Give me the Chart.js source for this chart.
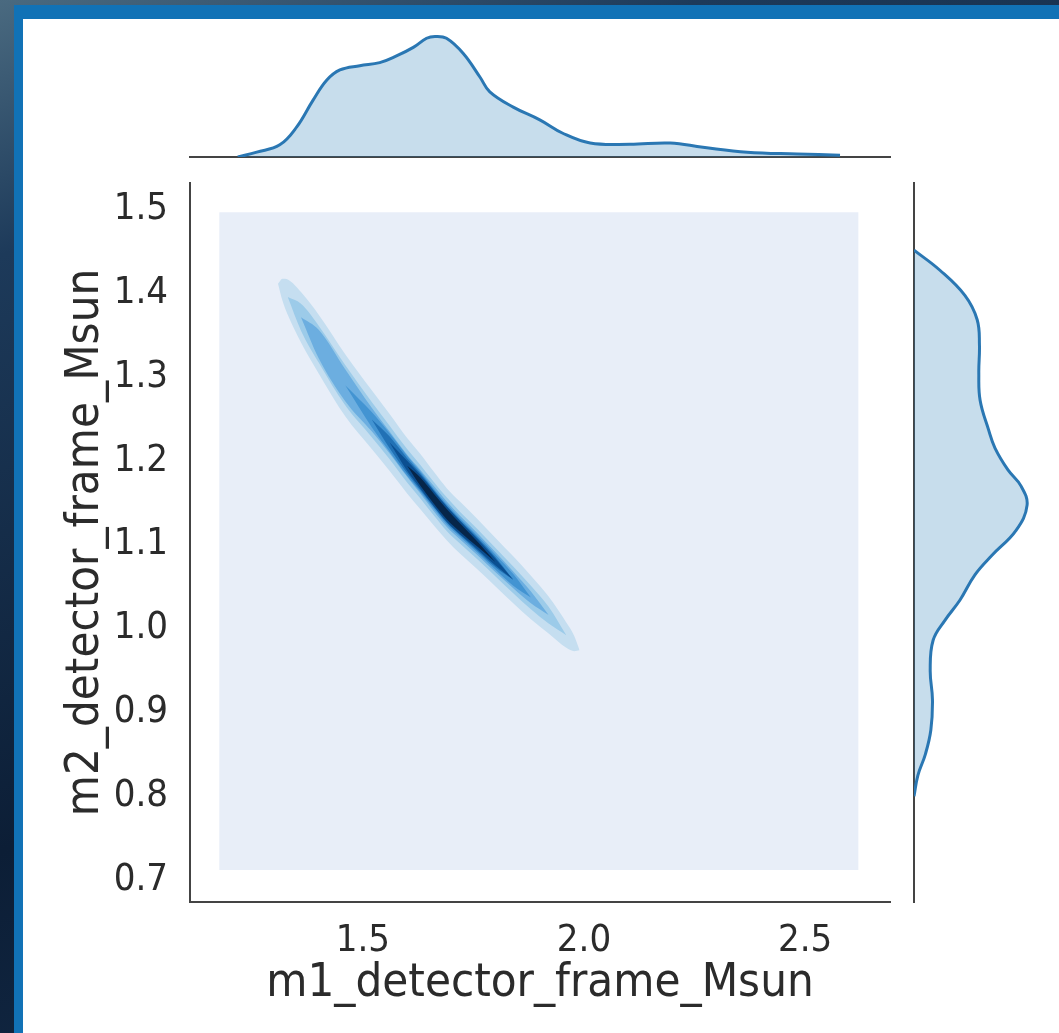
<!DOCTYPE html>
<html>
<head>
<meta charset="utf-8">
<script src="https://cdn.jsdelivr.net/npm/chart.js@4.4.1/dist/chart.umd.min.js"></script>
<style>
html,body{margin:0;padding:0;}
body{width:1059px;height:1033px;overflow:hidden;position:relative;
  background:linear-gradient(160deg,#4a6a80 0%,#1d3a5a 18%,#0c1e36 60%,#16304f 100%);}
#brush{position:absolute;left:14px;top:5px;right:0;bottom:0;background:#1172b6;}
#panel{position:absolute;left:23px;top:19px;right:0;bottom:0;background:#fff;}
canvas{position:absolute;left:0;top:0;}
</style>
</head>
<body>
<div id="brush"></div>
<div id="panel"></div>
<canvas id="top" width="1059" height="1033"></canvas>
<canvas id="right" width="1059" height="1033"></canvas>
<canvas id="joint" width="1059" height="1033"></canvas>
<script>
// marginal kde of m1 (top)
let m1Vals=[1.217,1.26,1.312,1.35,1.387,1.418,1.448,1.493,1.538,1.576,1.614,1.644,1.663,1.689,1.727,1.765,1.787,1.840,1.900,1.952,2.014,2.104,2.195,2.269,2.369,2.482,2.579];
let m1Dens=[0.00,0.08,0.20,0.49,0.93,1.26,1.43,1.50,1.55,1.66,1.80,1.95,1.98,1.95,1.70,1.31,1.07,0.82,0.61,0.39,0.23,0.21,0.23,0.16,0.08,0.05,0.03];

// marginal kde of m2 (right)
let m2Vals=[0.800,0.825,0.850,0.879,0.915,0.950,0.986,1.010,1.034,1.064,1.087,1.117,1.147,1.170,1.189,1.215,1.237,1.272,1.305,1.338,1.368,1.397,1.427,1.451];
let m2Dens=[0.00,0.12,0.35,0.52,0.57,0.50,0.59,0.96,1.42,1.88,2.40,3.15,3.49,3.30,2.90,2.50,2.30,2.04,2.00,2.02,1.95,1.57,0.80,0.00];

// joint kde: ridge of the density and half thickness of each contour level
let ridgeX=[1.308,1.318,1.33,1.36,1.40,1.46,1.52,1.56,1.60,1.63,1.66,1.69,1.72,1.76,1.80,1.84,1.88,1.92,1.96,1.978,1.99];
let ridgeY=[1.411,1.404,1.395,1.371,1.339,1.290,1.249,1.222,1.194,1.175,1.155,1.136,1.120,1.100,1.079,1.058,1.037,1.016,0.992,0.982,0.974];
let level1=[0,.013,.021,.030,.035,.037,.035,.034,.033,.033,.032,.031,.031,.030,.029,.028,.026,.022,.015,.009,0];
let level2=[null,null,0,.016,.022,.024,.021,.020,.020,.020,.020,.020,.019,.018,.017,.016,.014,.010,0,null,null];
let level3=[null,null,null,0,.017,.019,.014,.013,.013,.014,.015,.015,.014,.013,.012,.010,.007,0,null,null,null];
let level4=[null,null,null,null,null,0,.009,.011,.012,.012,.012,.012,.011,.010,.009,.007,0,null,null,null,null];
let level5=[null,null,null,null,null,null,0,.007,.009,.010,.010,.010,.009,.008,.006,0,null,null,null,null,null];
let level6=[null,null,null,null,null,null,null,0,.006,.008,.009,.009,.008,.006,.004,0,null,null,null,null,null];
let level7=[null,null,null,null,null,null,null,null,0,.005,.006,.006,.005,.003,0,null,null,null,null,null,null];
// extent of the kde grid (lowest level)
let gridX=[1.175,2.621];
let gridY=[0.712,1.496];

let xTicks=[1.5,2.0,2.5];
let yTicks=[0.7,0.8,0.9,1.0,1.1,1.2,1.3,1.4,1.5];

let levelColors=['#e8eef8','#c5def0','#9ccbe9','#6caee0','#4394d2','#2171b5','#0b4f91','#06264a'];
let levels=[level1,level2,level3,level4,level5,level6,level7];

Chart.defaults.font.family="'DejaVu Sans Condensed','DejaVu Sans',sans-serif";
Chart.defaults.color='#2b2b2b';
Chart.defaults.animation=false;
Chart.defaults.plugins.legend.display=false;
Chart.defaults.plugins.tooltip.enabled=false;

let spine={display:true,color:'#444',width:2};
let xMin=1.109,xMax=2.692,yMin=0.674,yMax=1.531;

// build fill pairs (upper edge fills down to lower edge)
let jointSets=[];
function band(upper,lower,color,order){
    let base={showLine:true,pointRadius:0,borderColor:'rgba(0,0,0,0)',borderWidth:0.01,
        cubicInterpolationMode:'monotone',order:order};
    jointSets.push(Object.assign({data:upper,fill:'+1',backgroundColor:color},base));
    jointSets.push(Object.assign({data:lower,fill:false,backgroundColor:color},base));
}
band([{x:gridX[0],y:gridY[1]},{x:gridX[1],y:gridY[1]}],
     [{x:gridX[0],y:gridY[0]},{x:gridX[1],y:gridY[0]}],levelColors[0],20);
levels.forEach(function(lv,k){
    let up=[],lo=[];
    for(let i=0;i<ridgeX.length;i++){
        if(lv[i]===null) continue;
        up.push({x:ridgeX[i],y:ridgeY[i]+lv[i]});
        lo.push({x:ridgeX[i],y:ridgeY[i]-lv[i]});
    }
    band(up,lo,levelColors[k+1],19-k);
});

new Chart(document.getElementById("joint"),{
    type:'scatter',
    data:{datasets:jointSets},
    options:{
        responsive:false,
        layout:{padding:{left:0,top:183,right:169,bottom:0}},
        scales:{
            x:{type:'linear',min:xMin,max:xMax,
               grid:{display:false,drawTicks:false},border:spine,
               afterBuildTicks:function(s){s.ticks=xTicks.map(v=>({value:v}));},
               afterFit:function(s){s.height=131;},
               ticks:{font:{size:38},padding:16,callback:v=>v.toFixed(1)},
               title:{display:true,text:'m1_detector_frame_Msun',font:{size:47,lineHeight:1.2},padding:{top:0,bottom:21}}},
            y:{type:'linear',min:yMin,max:yMax,
               grid:{display:false,drawTicks:false},border:spine,
               afterBuildTicks:function(s){s.ticks=yTicks.map(v=>({value:v}));},
               afterFit:function(s){s.width=190;},
               ticks:{font:{size:38},padding:22,callback:v=>v.toFixed(1)},
               title:{display:true,text:'m2_detector_frame_Msun',font:{size:47,lineHeight:1.2},padding:{top:58,bottom:0}}}
        }
    }
});

new Chart(document.getElementById("top"),{
    type:'scatter',
    data:{datasets:[{
        data:m1Vals.map((v,i)=>({x:v,y:m1Dens[i]})),
        showLine:true,fill:'origin',pointRadius:0,
        backgroundColor:'rgba(31,119,180,0.25)',borderColor:'#2a77b3',borderWidth:3,
        tension:0.4
    }]},
    options:{
        responsive:false,
        layout:{padding:{left:190,top:20,right:169,bottom:876}},
        scales:{
            x:{type:'linear',min:xMin,max:xMax,grid:{display:false,drawTicks:false},
               ticks:{display:false},border:spine,afterFit:function(s){s.height=0;}},
            y:{min:0,max:2.25,display:false}
        }
    }
});

new Chart(document.getElementById("right"),{
    type:'line',
    data:{datasets:[{
        data:m2Vals.map((v,i)=>({x:m2Dens[i],y:v})),
        fill:'origin',pointRadius:0,
        backgroundColor:'rgba(31,119,180,0.25)',borderColor:'#2a77b3',borderWidth:3,
        tension:0.4
    }]},
    options:{
        indexAxis:'y',
        responsive:false,
        layout:{padding:{left:914,top:183,right:0,bottom:131}},
        scales:{
            x:{type:'linear',min:0,max:4.475,display:false},
            y:{type:'linear',position:'left',min:yMin,max:yMax,grid:{display:false,drawTicks:false},
               ticks:{display:false},border:spine,afterFit:function(s){s.width=0;}}
        }
    }
});
</script>
</body>
</html>
